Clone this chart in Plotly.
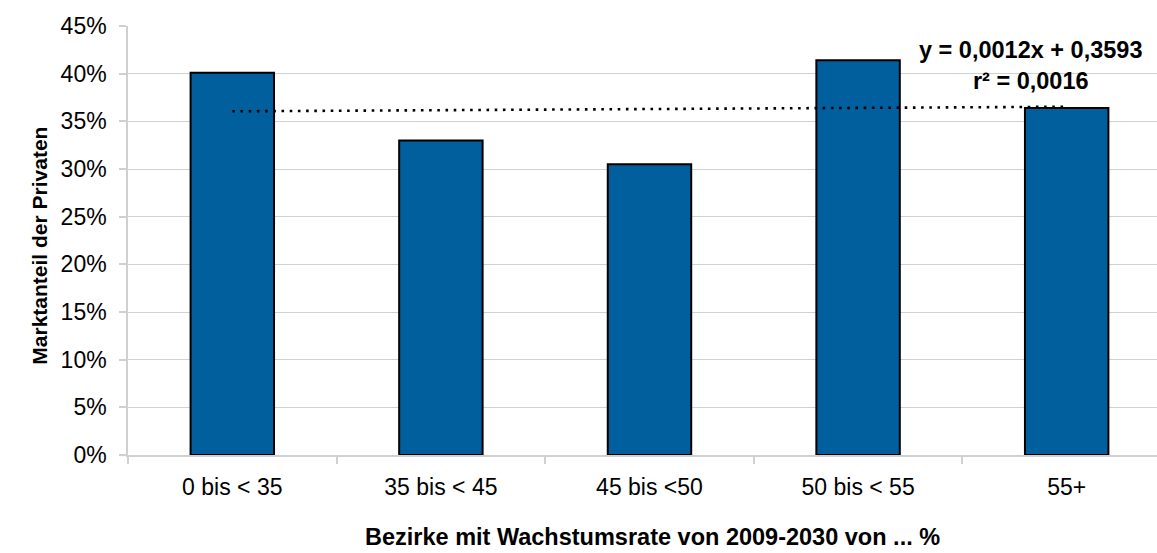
import plotly.graph_objects as go

# Market share of private operators by district growth-rate class
categories = ["0 bis < 35", "35 bis < 45", "45 bis <50", "50 bis < 55", "55+"]
market_share = [0.401, 0.330, 0.305, 0.414, 0.364]

# Linear trend (x = 1..n) as stated in the equation label
trend_slope = 0.0012
trend_intercept = 0.3593
trend_label = "y = 0,0012x + 0,3593<br>r² = 0,0016"

y_ticks = [0, 0.05, 0.10, 0.15, 0.20, 0.25, 0.30, 0.35, 0.40, 0.45]
y_tick_text = ["0%", "5%", "10%", "15%", "20%", "25%", "30%", "35%", "40%", "45%"]

x_title = "Bezirke mit Wachstumsrate von 2009-2030 von ... %"
y_title = "Marktanteil der Privaten"

FONT = "Liberation Sans, Arial, sans-serif"
GRID = "#d0d0d0"

trend_x = [categories[0], categories[-1]]
trend_y = [trend_intercept + trend_slope * 1, trend_intercept + trend_slope * len(categories)]

fig = go.Figure()
fig.add_trace(go.Bar(
    x=categories, y=market_share, width=0.4,
    marker=dict(color="#015f9e", line=dict(color="#000000", width=2)),
    showlegend=False,
))
fig.add_trace(go.Scatter(
    x=trend_x, y=trend_y, mode="lines",
    line=dict(color="#000000", width=2.6, dash="2.6px,5.6px"),
    showlegend=False, hoverinfo="skip",
))

fig.update_layout(
    width=1157, height=553,
    margin=dict(l=128, r=0, t=26, b=98),
    plot_bgcolor="white", paper_bgcolor="white",
    font=dict(family=FONT, color="#000000", size=23),
    bargap=0.6,
    annotations=[
        dict(text=trend_label, xref="paper", yref="paper",
             x=0.8766, y=0.907, xanchor="center", yanchor="middle",
             showarrow=False, align="center",
             font=dict(family=FONT, size=23.5, color="#000000", weight="bold")),
        dict(text=y_title, xref="paper", yref="paper",
             x=-0.0855, y=0.488, xanchor="center", yanchor="middle",
             textangle=-90, showarrow=False,
             font=dict(family=FONT, size=21, color="#000000", weight="bold")),
        dict(text=x_title, xref="paper", yref="paper",
             x=0.510, y=-0.191, xanchor="center", yanchor="middle",
             showarrow=False,
             font=dict(family=FONT, size=23.5, color="#000000", weight="bold")),
    ],
)

fig.update_xaxes(
    type="category", categoryorder="array", categoryarray=categories,
    range=[-0.5, 4.433],
    showline=True, linecolor=GRID, linewidth=2,
    ticks="outside", tickson="boundaries", ticklen=7, tickcolor=GRID, tickwidth=1.5,
    showgrid=False, ticklabelstandoff=10,
    tickfont=dict(family=FONT, size=23, color="#000000"),
)
fig.update_yaxes(
    range=[0, 0.45], tickvals=y_ticks, ticktext=y_tick_text,
    showline=True, linecolor=GRID, linewidth=1.5,
    showgrid=True, gridcolor=GRID, gridwidth=1.4,
    zeroline=False,
    ticks="outside", ticklen=7, tickcolor=GRID, tickwidth=1.5,
    ticklabelstandoff=8,
    tickfont=dict(family=FONT, size=23, color="#000000"),
)

fig.write_html("out.html")
